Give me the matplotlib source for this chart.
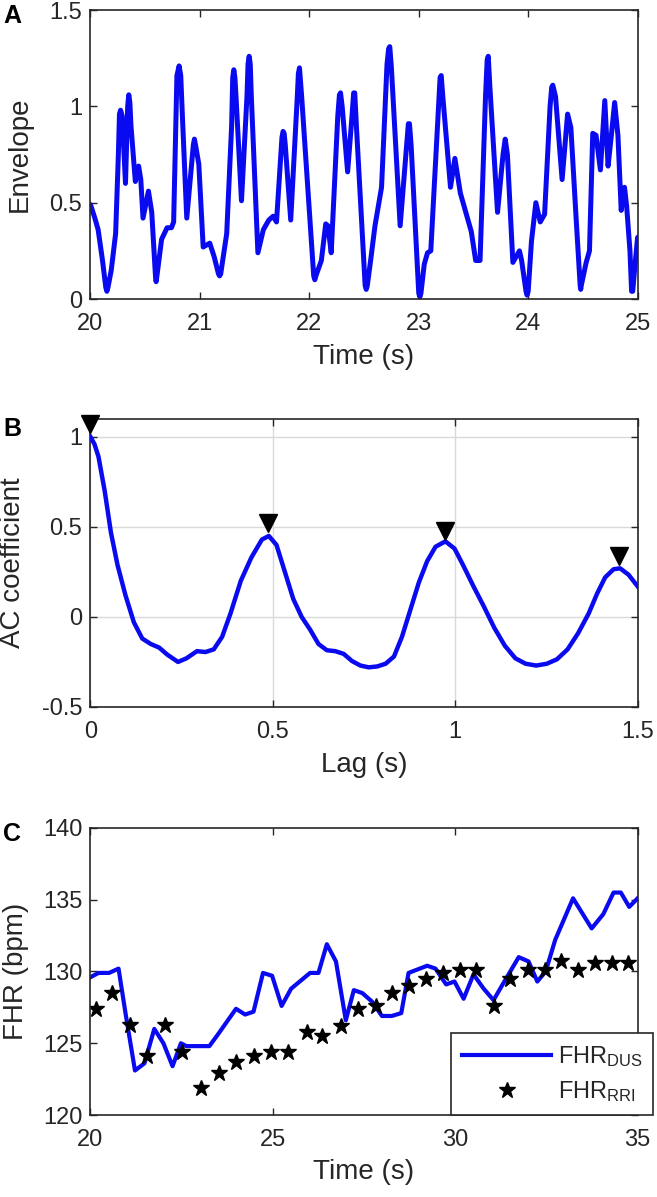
import matplotlib
matplotlib.use("Agg")
import matplotlib.pyplot as plt

plt.rcParams['font.family'] = ['Liberation Sans', 'DejaVu Sans']
plt.rcParams['mathtext.fontset'] = 'custom'
plt.rcParams['mathtext.rm'] = 'Liberation Sans'
plt.rcParams['mathtext.it'] = 'Liberation Sans'

# ---------------- Panel A: envelope ----------------
env_t = [20.00, 20.04, 20.07, 20.11, 20.14, 20.15, 20.16, 20.19, 20.23, 20.255, 20.265, 20.275, 20.29, 20.32,
         20.34, 20.35, 20.36, 20.37, 20.41, 20.44, 20.46, 20.48, 20.53, 20.56, 20.595, 20.60, 20.605, 20.65, 20.70,
         20.74, 20.76, 20.79, 20.81, 20.825, 20.84, 20.88, 20.94, 20.95, 20.96, 20.99, 21.03, 21.09, 21.13, 21.17, 21.18, 21.19,
         21.245, 21.29, 21.30, 21.31, 21.32, 21.33, 21.38, 21.43, 21.44, 21.45, 21.46, 21.47, 21.53, 21.58, 21.63,
         21.67, 21.70, 21.75, 21.76, 21.77, 21.78, 21.83, 21.89, 21.90, 21.91, 21.93, 22.04, 22.05, 22.06, 22.11, 22.15,
         22.17, 22.20, 22.26, 22.275, 22.285, 22.30, 22.35, 22.39, 22.405, 22.415, 22.43, 22.51, 22.52, 22.53, 22.56,
         22.60, 22.66, 22.71, 22.725, 22.735, 22.75, 22.83, 22.89, 22.905, 22.915, 22.93, 23.00, 23.01, 23.02, 23.05,
         23.08, 23.11, 23.18, 23.195, 23.205, 23.22, 23.29, 23.33, 23.38, 23.44, 23.48, 23.52,
         23.56, 23.61, 23.625, 23.635, 23.65, 23.72, 23.77, 23.79, 23.81, 23.86, 23.92, 23.94,
         23.98, 23.99, 24.00, 24.03, 24.07, 24.11, 24.15, 24.20, 24.215, 24.225, 24.25, 24.31, 24.36, 24.39,
         24.44, 24.475, 24.48, 24.485, 24.53, 24.56, 24.59, 24.62, 24.66, 24.70, 24.73, 24.76, 24.79,
         24.82, 24.85, 24.88, 24.90, 24.93, 24.945, 24.955, 24.98, 25.00]
env_v = [0.49, 0.42, 0.36, 0.20, 0.06, 0.04, 0.06, 0.15, 0.34, 0.75, 0.96, 0.98, 0.95, 0.60,
         1.00, 1.06, 1.02, 0.90, 0.61, 0.69, 0.62, 0.42, 0.56, 0.45, 0.11, 0.09, 0.11, 0.31, 0.37,
         0.37, 0.40, 1.16, 1.21, 1.16, 0.95, 0.42, 0.80, 0.83, 0.80, 0.70, 0.27, 0.29, 0.22, 0.13, 0.12, 0.13,
         0.34, 0.90, 1.15, 1.19, 1.15, 1.05, 0.51, 1.05, 1.22, 1.26, 1.22, 1.05, 0.24, 0.36, 0.41,
         0.43, 0.40, 0.84, 0.87, 0.86, 0.80, 0.41, 1.05, 1.17, 1.20, 1.05, 0.12, 0.10, 0.12, 0.20, 0.39,
         0.38, 0.24, 0.95, 1.06, 1.07, 1.00, 0.66, 0.95, 1.07, 1.07, 0.90, 0.07, 0.05, 0.07, 0.20,
         0.38, 0.58, 1.22, 1.30, 1.31, 1.20, 0.38, 0.80, 0.91, 0.91, 0.80, 0.03, 0.01, 0.03, 0.18,
         0.24, 0.25, 1.00, 1.15, 1.16, 1.05, 0.58, 0.73, 0.55, 0.43, 0.35, 0.20,
         0.20, 1.05, 1.24, 1.26, 1.10, 0.45, 0.75, 0.83, 0.75, 0.19, 0.25, 0.20,
         0.04, 0.02, 0.04, 0.30, 0.50, 0.40, 0.44, 1.00, 1.10, 1.11, 1.05, 0.62, 0.96, 0.89,
         0.40, 0.07, 0.05, 0.07, 0.19, 0.25, 0.86, 0.85, 0.67, 1.03, 0.69, 0.85, 1.02,
         0.85, 0.46, 0.58, 0.48, 0.25, 0.04, 0.04, 0.20, 0.32]

# ---------------- Panel B: autocorrelation ----------------
ac_lag = [0.000, 0.011, 0.022, 0.039, 0.056, 0.074, 0.096, 0.119, 0.142, 0.165, 0.188, 0.211,
          0.240, 0.263, 0.292, 0.315, 0.338, 0.361, 0.384, 0.412, 0.441, 0.470, 0.489,
          0.510, 0.533, 0.556, 0.579, 0.602, 0.625, 0.648, 0.671, 0.694, 0.717, 0.740,
          0.763, 0.786, 0.809, 0.832, 0.854, 0.877, 0.900, 0.923, 0.946, 0.973, 0.998,
          1.021, 1.050, 1.078, 1.107, 1.136, 1.165, 1.193, 1.222, 1.251, 1.279, 1.308,
          1.337, 1.366, 1.389, 1.411, 1.434, 1.452, 1.475, 1.500]
ac_val = [1.00, 0.96, 0.89, 0.70, 0.47, 0.29, 0.12, -0.03, -0.12, -0.15, -0.17, -0.21,
          -0.25, -0.23, -0.19, -0.195, -0.18, -0.11, 0.02, 0.20, 0.33, 0.43, 0.45,
          0.40, 0.25, 0.10, 0.00, -0.07, -0.15, -0.185, -0.19, -0.205, -0.245, -0.27,
          -0.28, -0.275, -0.26, -0.22, -0.11, 0.04, 0.19, 0.31, 0.39, 0.42, 0.38,
          0.29, 0.17, 0.06, -0.06, -0.16, -0.23, -0.26, -0.27, -0.26, -0.235, -0.18,
          -0.09, 0.02, 0.13, 0.22, 0.265, 0.27, 0.235, 0.17]
peak_lag = [0.0, 0.487, 0.973, 1.449]
peak_mark = [1.07, 0.52, 0.48, 0.34]

# ---------------- Panel C: FHR ----------------
dus_t = [20.00, 20.22, 20.51, 20.77, 20.96, 21.22, 21.48, 21.75, 22.00, 22.25, 22.48,
         22.63, 23.26, 23.49, 23.99, 24.24, 24.47, 24.73, 24.98, 25.24, 25.50, 26.02,
         26.25, 26.48, 26.73, 27.00, 27.22, 27.45, 27.72, 27.99, 28.26, 28.52, 28.72,
         29.23, 29.46, 29.75, 29.98, 30.23, 30.50, 30.78, 31.05, 31.30, 31.74, 32.01,
         32.25, 32.48, 32.74, 33.23, 33.74, 34.06, 34.34, 34.54, 34.77, 35.00]
dus_v = [129.6, 129.9, 129.9, 130.2, 127.1, 123.1, 123.6, 126.0, 125.0, 123.4, 125.0,
         124.8, 124.8, 125.6, 127.4, 127.0, 127.2, 129.9, 129.7, 127.6, 128.8, 129.9,
         129.9, 131.9, 130.7, 126.6, 128.7, 128.5, 127.9, 126.9, 126.9, 127.1, 129.9,
         130.4, 130.2, 129.1, 129.3, 128.1, 129.8, 128.8, 128.0, 129.1, 131.0, 130.7,
         129.3, 130.0, 132.2, 135.1, 133.0, 134.0, 135.5, 135.5, 134.5, 135.1]
rri_t = [20.14, 20.60, 21.09, 21.54, 22.03, 22.52, 23.03, 23.51, 23.99, 24.47, 24.96,
         25.42, 25.93, 26.36, 26.88, 27.34, 27.82, 28.28, 28.74, 29.20, 29.66, 30.13,
         30.58, 31.07, 31.51, 31.99, 32.45, 32.91, 33.37, 33.83, 34.29, 34.75]
rri_v = [127.4, 128.5, 126.3, 124.1, 126.3, 124.4, 121.9, 122.9, 123.7, 124.1, 124.4,
         124.4, 125.8, 125.5, 126.2, 127.4, 127.6, 128.5, 129.0, 129.5, 129.9, 130.1,
         130.1, 127.6, 129.5, 130.1, 130.1, 130.7, 130.1, 130.6, 130.6, 130.6]

a_xticks = [20, 21, 22, 23, 24, 25]
a_yticks = [0, 0.5, 1, 1.5]
a_yticklabels = ['0', '0.5', '1', '1.5']
b_xticks = [0, 0.5, 1, 1.5]
b_xticklabels = ['0', '0.5', '1', '1.5']
b_yticks = [-0.5, 0, 0.5, 1]
b_yticklabels = ['-0.5', '0', '0.5', '1']
c_xticks = [20, 25, 30, 35]
c_yticks = [120, 125, 130, 135, 140]
legend_labels = ['FHR$_{\\mathrm{DUS}}$', 'FHR$_{\\mathrm{RRI}}$']

BLUE = '#0a0af0'
TXT = '#262626'

fig = plt.figure(figsize=(6.57, 11.97), dpi=100)
L, W = 0.1377, 0.8328
axA = fig.add_axes([L, 0.7502, W, 0.2414])
axB = fig.add_axes([L, 0.4094, W, 0.2406])
axC = fig.add_axes([L, 0.0685, W, 0.2398])


def style(ax):
    for s in ax.spines.values():
        s.set_color(TXT)
        s.set_linewidth(1.2)
    ax.tick_params(direction='in', length=5, width=1.0, colors=TXT,
                   labelsize=17, top=True, right=True)
    ax.tick_params(axis='x', pad=10)
    ax.tick_params(axis='y', pad=6)


# Panel A
axA.plot(env_t, env_v, color=BLUE, lw=3.6, solid_joinstyle='round', solid_capstyle='round')
axA.set_xlim(20, 25)
axA.set_ylim(0, 1.5)
axA.set_xticks(a_xticks)
axA.set_yticks(a_yticks)
axA.set_yticklabels(a_yticklabels)
axA.set_xlabel('Time (s)', fontsize=20, color=TXT)
axA.set_ylabel('Envelope', fontsize=20, color=TXT)
style(axA)
axA.yaxis.set_label_coords(-0.105, 0.5)
axA.xaxis.set_label_coords(0.5, -0.155)

# Panel B
axB.plot(ac_lag, ac_val, color=BLUE, lw=3.2, solid_joinstyle='round', zorder=3)
axB.plot(peak_lag, peak_mark, linestyle='none', marker='v', color='black',
         markersize=13, zorder=4, clip_on=False)
axB.set_xlim(0, 1.5)
axB.set_ylim(-0.5, 1.1)
axB.set_xticks(b_xticks)
axB.set_xticklabels(b_xticklabels)
axB.set_yticks(b_yticks)
axB.set_yticklabels(b_yticklabels)
axB.grid(True, color='#d9d9d9', lw=1.0)
axB.set_axisbelow(True)
axB.set_xlabel('Lag (s)', fontsize=20, color=TXT)
axB.set_ylabel('AC coefficient', fontsize=20, color=TXT)
style(axB)
axB.yaxis.set_label_coords(-0.118, 0.5)
axB.xaxis.set_label_coords(0.5, -0.155)

# Panel C
axC.plot(dus_t, dus_v, color=BLUE, lw=3, label=legend_labels[0])
axC.plot(rri_t, rri_v, linestyle='none', marker='*', color='black',
         markersize=12, label=legend_labels[1])
axC.set_xlim(20, 35)
axC.set_ylim(120, 140)
axC.set_xticks(c_xticks)
axC.set_yticks(c_yticks)
axC.set_xlabel('Time (s)', fontsize=20, color=TXT)
axC.set_ylabel('FHR (bpm)', fontsize=20, color=TXT)
style(axC)
axC.yaxis.set_label_coords(-0.112, 0.5)
axC.xaxis.set_label_coords(0.5, -0.155)
leg = axC.legend(loc='lower left', bbox_to_anchor=(0.659, 0.0, 0.370, 0.31),
                 mode='expand', fontsize=17, handlelength=3.8, handletextpad=0.3,
                 borderpad=0.45, labelspacing=0.45, fancybox=False, framealpha=1,
                 edgecolor=TXT, borderaxespad=0)
leg.get_frame().set_linewidth(1.2)
for t in leg.get_texts():
    t.set_color(TXT)

# Panel letters
fig.text(3 / 657, 1 - 23 / 1197, 'A', fontsize=18, fontweight='bold', va='baseline')
fig.text(3 / 657, 1 - 436 / 1197, 'B', fontsize=18, fontweight='bold', va='baseline')
fig.text(3 / 657, 1 - 841 / 1197, 'C', fontsize=18, fontweight='bold', va='baseline')

fig.savefig('out.png', dpi=100)
